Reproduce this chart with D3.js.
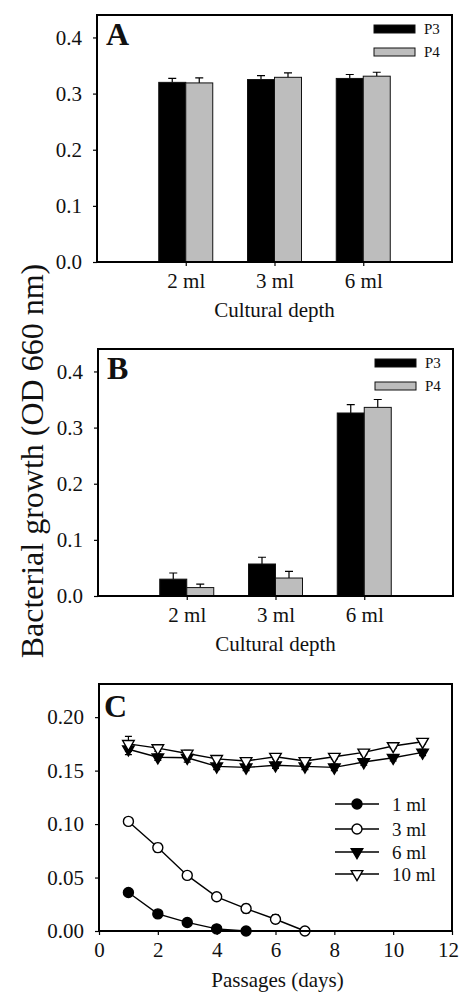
<!DOCTYPE html>
<html>
<head>
<meta charset="utf-8">
<script src="https://cdn.jsdelivr.net/npm/d3@7"></script>
<style>
  body { margin: 0; background: #fff; }
  svg { display: block; }
  text { font-family: "Liberation Serif", "Times New Roman", serif; fill: #111; }
</style>
</head>
<body>
<svg id="svg" width="460" height="992"></svg>
<script>
// panel A / B data
var depths = ["2 ml", "3 ml", "6 ml"];
var seriesNames = ["P3", "P4"];
var aP3 = [0.320, 0.325, 0.327];
var aP3err = [0.007, 0.007, 0.007];
var aP4 = [0.319, 0.329, 0.331];
var aP4err = [0.009, 0.008, 0.007];
var bP3 = [0.030, 0.057, 0.326];
var bP3err = [0.011, 0.012, 0.015];
var bP4 = [0.015, 0.032, 0.336];
var bP4err = [0.006, 0.012, 0.014];
var barTicks = [0.0, 0.1, 0.2, 0.3, 0.4];

// panel C data
var days = [1, 2, 3, 4, 5, 6, 7, 8, 9, 10, 11];
var c1ml = [0.036, 0.016, 0.008, 0.002, 0.000];
var c1mlErr = [0.003, 0.002, 0.002, 0.002, 0.001];
var c3ml = [0.1025, 0.078, 0.052, 0.032, 0.021, 0.011, 0.000];
var c3mlErr = [0.002, 0.004, 0.003, 0.003, 0.004, 0.004, 0.001];
var c6ml = [0.170, 0.1625, 0.162, 0.154, 0.153, 0.155, 0.154, 0.153, 0.158, 0.162, 0.167];
var c6mlErr = [0.005, 0.003, 0.004, 0.003, 0.003, 0.003, 0.003, 0.003, 0.003, 0.003, 0.003];
var c10ml = [0.175, 0.171, 0.166, 0.161, 0.159, 0.163, 0.159, 0.163, 0.167, 0.173, 0.177];
var c10mlErr = [0.007, 0.003, 0.003, 0.002, 0.003, 0.002, 0.002, 0.002, 0.002, 0.002, 0.002];
var lineNames = ["1 ml", "3 ml", "6 ml", "10 ml"];
var lineTicksY = [0.00, 0.05, 0.10, 0.15, 0.20];
var lineTicksX = [0, 2, 4, 6, 8, 10, 12];

var svg = d3.select('#svg');
var gray = '#bdbdbd';

function barPanel(frame, p3, p3err, p4, p4err, letter) {
  var x = d3.scalePoint().domain(depths).range([frame.left, frame.right]).padding(1);
  var y = d3.scaleLinear().domain([0, 0.44]).range([frame.bottom, frame.top]);
  var g = svg.append('g');
  var bw = 27;

  var rows = depths.map(function(d, i) {
    return [
      {cat: d, v: p3[i], e: p3err[i], off: -bw, fill: '#000'},
      {cat: d, v: p4[i], e: p4err[i], off: 0, fill: gray}
    ];
  });
  var bars = [].concat.apply([], rows);

  // error bars (upper only)
  g.selectAll('.eb').data(bars).enter().append('path')
    .attr('d', function(d) {
      var cx = x(d.cat) + d.off + bw / 2;
      return 'M' + cx + ',' + y(d.v) + 'V' + y(d.v + d.e) + 'M' + (cx - 4) + ',' + y(d.v + d.e) + 'H' + (cx + 4);
    })
    .attr('stroke', '#000').attr('stroke-width', 1.2).attr('fill', 'none');

  g.selectAll('.bar').data(bars).enter().append('rect')
    .attr('x', function(d) { return x(d.cat) + d.off; })
    .attr('y', function(d) { return y(d.v); })
    .attr('width', bw)
    .attr('height', function(d) { return y(0) - y(d.v); })
    .attr('fill', function(d) { return d.fill; })
    .attr('stroke', '#111').attr('stroke-width', 1);

  // axes
  var ya = g.append('g').attr('transform', 'translate(' + frame.left + ',0)')
    .call(d3.axisLeft(y).tickValues(barTicks).tickFormat(d3.format('.1f')).tickSize(4).tickPadding(11));
  ya.select('.domain').remove();
  var xa = g.append('g').attr('transform', 'translate(0,' + frame.bottom + ')')
    .call(d3.axisBottom(x).tickSize(4).tickPadding(7));
  xa.select('.domain').remove();
  g.selectAll('.tick text').attr('font-size', 21).attr('font-family', '"Liberation Serif", serif').attr('fill', '#111');
  g.selectAll('.tick line').attr('stroke', '#000').attr('stroke-width', 1.2);

  g.append('rect')
    .attr('x', frame.left).attr('y', frame.top)
    .attr('width', frame.right - frame.left).attr('height', frame.bottom - frame.top)
    .attr('fill', 'none').attr('stroke', '#000').attr('stroke-width', 2);

  g.append('text').attr('x', frame.left + 9).attr('y', frame.top + 30)
    .attr('font-size', 32).attr('font-weight', 'bold').text(letter);

  // legend
  var leg = g.selectAll('.leg').data(seriesNames).enter().append('g')
    .attr('transform', function(d, i) { return 'translate(' + (frame.right - 78) + ',' + (frame.top + 10 + i * 23) + ')'; });
  leg.append('rect').attr('width', 41).attr('height', 8)
    .attr('fill', function(d, i) { return i ? gray : '#000'; })
    .attr('stroke', '#111').attr('stroke-width', 1);
  leg.append('text').attr('x', 50).attr('y', 9).attr('font-size', 15).text(function(d) { return d; });

  g.append('text').attr('x', (frame.left + frame.right) / 2).attr('y', frame.bottom + 55)
    .attr('text-anchor', 'middle').attr('font-size', 21).text('Cultural depth');
}

barPanel({left: 97, right: 452, top: 15, bottom: 262}, aP3, aP3err, aP4, aP4err, 'A');
barPanel({left: 98, right: 453, top: 349, bottom: 596}, bP3, bP3err, bP4, bP4err, 'B');

// panel C
var fc = {left: 99, right: 452, top: 684, bottom: 931};
var xc = d3.scaleLinear().domain([0, 12]).range([fc.left, fc.right]);
var yc = d3.scaleLinear().domain([0, 0.231]).range([fc.bottom, fc.top]);
var gc = svg.append('g');

var lineSeries = [
  {name: lineNames[0], vals: c1ml, errs: c1mlErr, shape: 'circle', fill: '#000'},
  {name: lineNames[1], vals: c3ml, errs: c3mlErr, shape: 'circle', fill: '#fff'},
  {name: lineNames[2], vals: c6ml, errs: c6mlErr, shape: 'tri', fill: '#000'},
  {name: lineNames[3], vals: c10ml, errs: c10mlErr, shape: 'tri', fill: '#fff'}
];

var lineGen = d3.line()
  .x(function(d) { return xc(d.day); })
  .y(function(d) { return yc(d.v); });

function marker(sel, s) {
  if (s.shape == 'circle') {
    sel.append('circle').attr('r', 5);
  } else {
    sel.append('path').attr('d', d3.symbol().type(d3.symbolTriangle).size(58)()).attr('transform', 'rotate(180)');
  }
  sel.selectAll('circle,path').attr('fill', s.fill).attr('stroke', '#000').attr('stroke-width', 1.4);
}

lineSeries.forEach(function(s) {
  var pts = s.vals.map(function(v, i) { return {day: days[i], v: v, e: s.errs[i]}; });
  var sg = gc.append('g');
  sg.append('path').datum(pts).attr('d', lineGen)
    .attr('fill', 'none').attr('stroke', '#000').attr('stroke-width', 1.4);
  sg.selectAll('.err').data(pts).enter().append('path')
    .attr('d', function(d) {
      var cx = xc(d.day);
      return 'M' + cx + ',' + yc(d.v - d.e) + 'V' + yc(d.v + d.e) +
        'M' + (cx - 3.5) + ',' + yc(d.v + d.e) + 'H' + (cx + 3.5) +
        'M' + (cx - 3.5) + ',' + yc(d.v - d.e) + 'H' + (cx + 3.5);
    })
    .attr('stroke', '#000').attr('stroke-width', 1.2).attr('fill', 'none');
  sg.selectAll('.pt').data(pts).enter().append('g')
    .attr('transform', function(d) { return 'translate(' + xc(d.day) + ',' + yc(d.v) + ')'; })
    .each(function() { marker(d3.select(this), s); });
});

var yca = gc.append('g').attr('transform', 'translate(' + fc.left + ',0)')
  .call(d3.axisLeft(yc).tickValues(lineTicksY).tickFormat(d3.format('.2f')).tickSize(4).tickPadding(11));
yca.select('.domain').remove();
var xca = gc.append('g').attr('transform', 'translate(0,' + fc.bottom + ')')
  .call(d3.axisBottom(xc).tickValues(lineTicksX).tickFormat(d3.format('d')).tickSize(4).tickPadding(7));
xca.select('.domain').remove();
gc.selectAll('.tick text').attr('font-size', 21).attr('font-family', '"Liberation Serif", serif').attr('fill', '#111');
gc.selectAll('.tick line').attr('stroke', '#000').attr('stroke-width', 1.2);
// last x label sits at the right edge, nudge it in so it is not cut
xca.selectAll('.tick text').filter(function(d) { return d == 12; }).attr('dx', -4);

gc.append('rect')
  .attr('x', fc.left).attr('y', fc.top)
  .attr('width', fc.right - fc.left).attr('height', fc.bottom - fc.top)
  .attr('fill', 'none').attr('stroke', '#000').attr('stroke-width', 2);

gc.append('text').attr('x', fc.left + 5).attr('y', fc.top + 33)
  .attr('font-size', 32).attr('font-weight', 'bold').text('C');

var lg = gc.selectAll('.lleg').data(lineSeries).enter().append('g')
  .attr('transform', function(d, i) { return 'translate(357,' + [804, 829, 852, 874][i] + ')'; });
lg.append('line').attr('x1', -22).attr('x2', 22).attr('stroke', '#000').attr('stroke-width', 1.4);
lg.each(function(s) { marker(d3.select(this), s); });
lg.append('text').attr('x', 35).attr('dy', '0.35em').attr('font-size', 19).text(function(d) { return d.name; });

gc.append('text').attr('x', (fc.left + fc.right) / 2 + 2).attr('y', 987)
  .attr('text-anchor', 'middle').attr('font-size', 21).text('Passages (days)');

// shared y title
svg.append('text')
  .attr('transform', 'translate(43,461) rotate(-90)')
  .attr('text-anchor', 'middle').attr('font-size', 32)
  .text('Bacterial growth (OD 660 nm)');
</script>
</body>
</html>
